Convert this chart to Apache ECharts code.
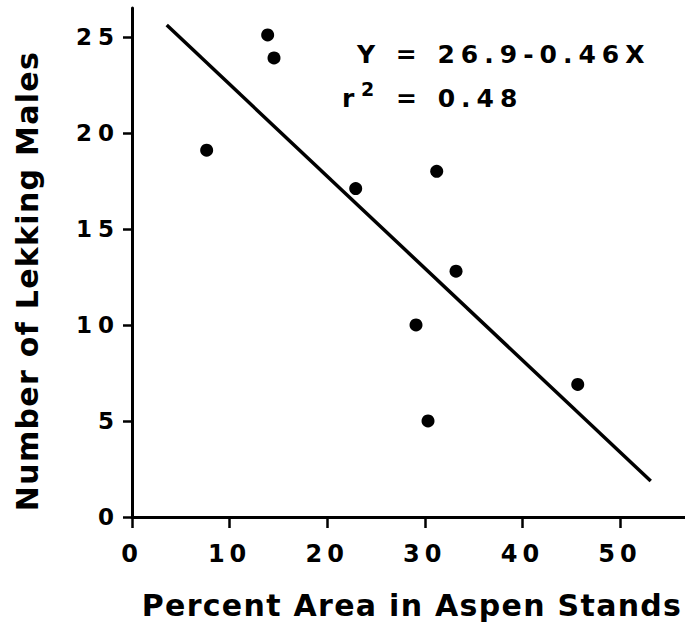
<!DOCTYPE html>
<html>
<head>
<meta charset="utf-8">
<script src="https://cdn.jsdelivr.net/npm/echarts@6/dist/echarts.min.js"></script>
<style>
  html, body { margin: 0; padding: 0; background: #fff; }
  #chart { width: 685px; height: 626px; }
  #chart text[style*="23px"] { letter-spacing: 6px; }
  #chart text[style*="24px"] { letter-spacing: 5px; }
  #chart text[style*="25px"] { letter-spacing: 6px; }
  #chart text[style*="30px"] { letter-spacing: 1.3px; }
</style>
</head>
<body>
<div id="chart"></div>
<script>
// Data
const aspenPct     = [7.65, 13.9, 14.55, 22.92, 29.1, 30.33, 31.22, 33.2, 45.67];
const lekkingMales = [19.1, 25.1, 23.9, 17.1, 10.0, 5.0, 18.0, 12.8, 6.9];
const regLineX = [3.56, 53.15];
const regLineY = [25.61, 1.87];
const xTicks = [0, 10, 20, 30, 40, 50];
const yTicks = [0, 5, 10, 15, 20, 25];
const xTitle = 'Percent Area in Aspen Stands';
const yTitle = 'Number of Lekking Males';
const eqText = 'Y = 26.9-0.46X';
const r2Value = '= 0.48';

const FONT = '"DejaVu Sans"';
const chart = echarts.init(document.getElementById('chart'), null, { renderer: 'svg' });

const option = {
  backgroundColor: '#fff',
  animation: false,
  grid: { left: 132, right: 0, top: 8, bottom: 109 },
  xAxis: {
    type: 'value', min: 0, max: 56.66,
    splitLine: { show: false },
    axisLine: { onZero: false, lineStyle: { color: '#000', width: 3 } },
    axisTick: { customValues: xTicks, length: 11, lineStyle: { color: '#000', width: 2.5 } },
    axisLabel: { customValues: xTicks, margin: 25, color: '#000', fontFamily: FONT, fontWeight: 'bold', fontSize: 24 }
  },
  yAxis: {
    type: 'value', min: 0, max: 26.5,
    splitLine: { show: false },
    axisLine: { onZero: false, lineStyle: { color: '#000', width: 3 } },
    axisTick: { customValues: yTicks, length: 9, lineStyle: { color: '#000', width: 2.5 } },
    axisLabel: { customValues: yTicks, margin: 12, color: '#000', fontFamily: FONT, fontWeight: 'bold', fontSize: 23 }
  },
  series: [
    {
      type: 'scatter',
      data: aspenPct.map((x, i) => [x, lekkingMales[i]]),
      symbol: 'circle', symbolSize: 13,
      itemStyle: { color: '#000', opacity: 1 }
    },
    {
      type: 'line',
      data: regLineX.map((x, i) => [x, regLineY[i]]),
      showSymbol: false, symbol: 'none',
      lineStyle: { color: '#000', width: 3.5 }
    }
  ],
  graphic: [
    { type: 'text', x: 412, y: 605,
      style: { text: xTitle, fill: '#000', font: 'bold 30px ' + FONT, align: 'center', verticalAlign: 'middle' } },
    { type: 'text', x: 27, y: 281, rotation: Math.PI / 2,
      style: { text: yTitle, fill: '#000', font: 'bold 30px ' + FONT, align: 'center', verticalAlign: 'middle' } },
    { type: 'text', x: 357, y: 54.5,
      style: { text: eqText, fill: '#000', font: 'bold 25px ' + FONT, align: 'left', verticalAlign: 'middle' } },
    { type: 'text', x: 342, y: 98.5,
      style: { text: 'r', fill: '#000', font: 'bold 25px ' + FONT, align: 'left', verticalAlign: 'middle' } },
    { type: 'text', x: 361, y: 89,
      style: { text: '2', fill: '#000', font: 'bold 19px ' + FONT, align: 'left', verticalAlign: 'middle' } },
    { type: 'text', x: 396, y: 98.5,
      style: { text: r2Value, fill: '#000', font: 'bold 25px ' + FONT, align: 'left', verticalAlign: 'middle' } }
  ]
};
chart.setOption(option);
</script>
</body>
</html>
